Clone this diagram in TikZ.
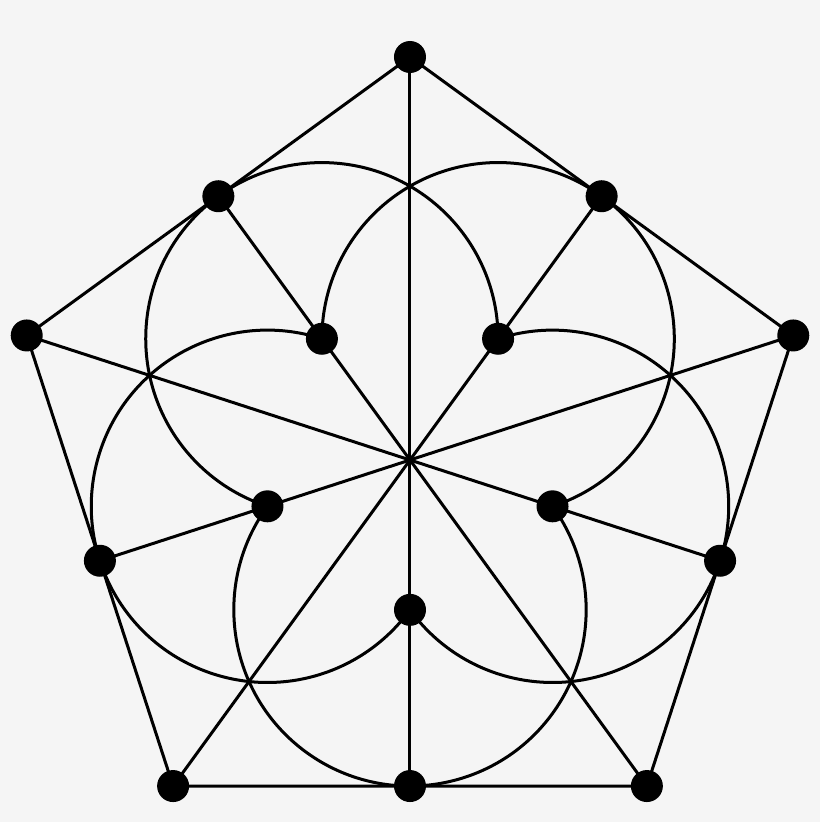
\documentclass[tikz,border=0pt]{standalone}
\definecolor{bg}{HTML}{F5F5F5}
\begin{document}
\begin{tikzpicture}[x=0.75pt,y=0.75pt,
  edge/.style={line width=2.25pt, black},
  dot/.style={circle, fill=black, inner sep=0pt, minimum size=24pt}]
\fill[bg] (-410,-362) rectangle (410,460);
\useasboundingbox (-410,-362) rectangle (410,460);
\pgfmathsetmacro{\Rv}{403}
\pgfmathsetmacro{\Rm}{403*cos(36)}
\pgfmathsetmacro{\Ri}{\Rm/(1+2*sin(36))}
\pgfmathsetmacro{\Rc}{2*\Ri*sin(36)}
\coordinate (O) at (0,0);
\foreach \k in {0,...,4}{
  \coordinate (v\k) at ({90+72*\k}:\Rv);
  \coordinate (m\k) at ({270+72*\k}:\Rm);
  \coordinate (i\k) at ({270+72*\k}:\Ri);
}
% pentagon
\draw[edge, line join=round] (v0) -- (v1) -- (v2) -- (v3) -- (v4) -- cycle;
% diameters vertex -> opposite midpoint
\foreach \k in {0,...,4}{
  \draw[edge] (v\k) -- (m\k);
}
% arcs
\foreach \k/\p in {0/4,1/0,2/1,3/2,4/3}{
  \pgfmathsetmacro{\phi}{270+72*\k}
  \draw[edge] (i\p) arc[start angle={\phi-126}, end angle={\phi+126}, radius=\Rc];
}
% dots
\foreach \k in {0,...,4}{
  \node[dot] (V\k) at (v\k) {};
  \node[dot] (M\k) at (m\k) {};
  \node[dot] (I\k) at (i\k) {};
}
\end{tikzpicture}
\end{document}
